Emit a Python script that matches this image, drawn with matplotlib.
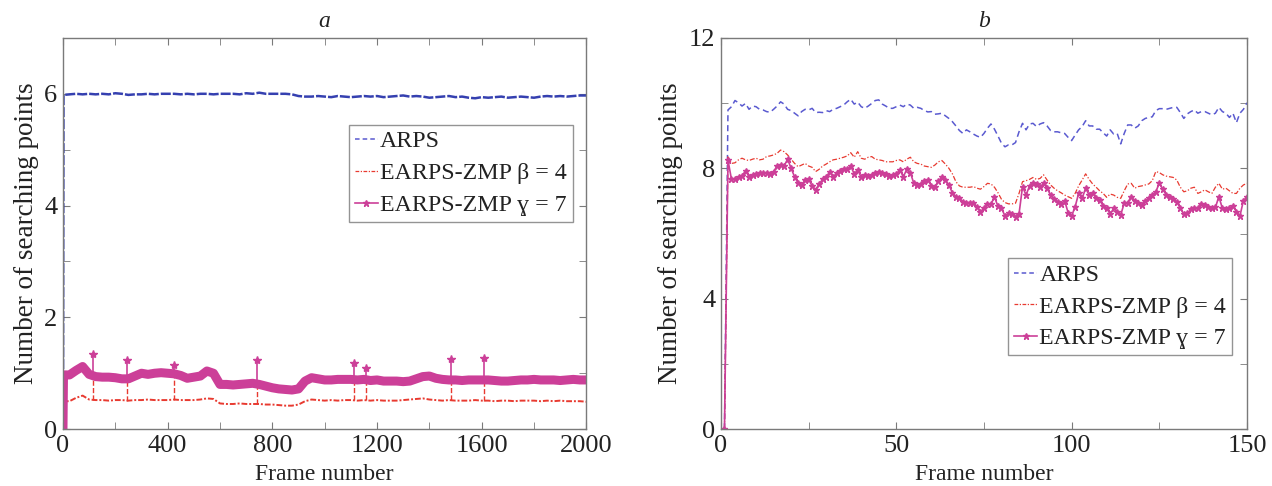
import numpy as np
import matplotlib
matplotlib.use("Agg")
import matplotlib.pyplot as plt
from matplotlib.lines import Line2D
from matplotlib.ticker import MultipleLocator

plt.rcParams['font.family'] = ['Liberation Serif', 'DejaVu Serif']

# ---- panel a : 2000 frames (read every 25 frames) ----
frames_a = [0, 2] + list(range(25, 2001, 25))
arps_a = [0, 5.98,
          5.99, 6.00, 5.99, 6.00, 5.99, 6.00, 5.99, 6.01, 6.00, 5.98, 5.99, 5.99,
          6.00, 5.99, 6.00, 6.00, 6.00, 5.99, 6.00, 5.99, 6.00, 6.00, 5.99, 6.00,
          6.00, 6.00, 5.99, 6.01, 6.00, 6.02, 6.00, 6.00, 6.00, 6.00, 5.99, 5.96,
          5.95, 5.95, 5.96, 5.95, 5.94, 5.96, 5.95, 5.94, 5.95, 5.96, 5.95, 5.96,
          5.94, 5.95, 5.96, 5.97, 5.95, 5.96, 5.95, 5.93, 5.94, 5.95, 5.96, 5.94,
          5.95, 5.93, 5.92, 5.94, 5.93, 5.94, 5.95, 5.93, 5.94, 5.95, 5.94, 5.93,
          5.95, 5.96, 5.95, 5.96, 5.95, 5.96, 5.97, 5.97]
beta_a = [0, 0.50,
          0.50, 0.56, 0.60, 0.53, 0.52, 0.52, 0.51, 0.52, 0.52, 0.51, 0.52, 0.52,
          0.53, 0.52, 0.52, 0.52, 0.53, 0.52, 0.52, 0.52, 0.53, 0.55, 0.54, 0.46,
          0.45, 0.45, 0.46, 0.45, 0.45, 0.45, 0.44, 0.44, 0.43, 0.42, 0.42, 0.44,
          0.50, 0.53, 0.52, 0.51, 0.52, 0.51, 0.52, 0.52, 0.51, 0.52, 0.51, 0.52,
          0.51, 0.51, 0.51, 0.52, 0.53, 0.54, 0.55, 0.53, 0.52, 0.51, 0.52, 0.51,
          0.51, 0.51, 0.52, 0.51, 0.51, 0.50, 0.51, 0.51, 0.50, 0.51, 0.51, 0.51,
          0.50, 0.51, 0.50, 0.51, 0.50, 0.50, 0.50, 0.49]
gamma_a = [0, 0.97,
           0.97, 1.05, 1.12, 0.98, 0.94, 0.93, 0.93, 0.92, 0.90, 0.90, 0.95, 1.00,
           0.98, 1.00, 1.01, 1.00, 0.99, 0.96, 0.91, 0.93, 0.95, 1.04, 1.00, 0.80,
           0.80, 0.79, 0.80, 0.81, 0.82, 0.80, 0.77, 0.74, 0.72, 0.71, 0.70, 0.72,
           0.86, 0.92, 0.90, 0.88, 0.88, 0.89, 0.89, 0.89, 0.88, 0.89, 0.87, 0.88,
           0.86, 0.86, 0.86, 0.85, 0.86, 0.90, 0.94, 0.95, 0.91, 0.89, 0.88, 0.88,
           0.87, 0.88, 0.88, 0.88, 0.88, 0.87, 0.86, 0.86, 0.87, 0.88, 0.88, 0.89,
           0.88, 0.88, 0.88, 0.87, 0.88, 0.89, 0.88, 0.88]
spike_frames = [116, 243, 424, 741, 1111, 1159, 1483, 1610]
spike_peak = [1.35, 1.24, 1.15, 1.24, 1.18, 1.10, 1.26, 1.27]
spike_base = [0.93, 0.90, 1.00, 0.80, 0.89, 0.89, 0.88, 0.88]
spike_beta = [0.52, 0.51, 0.52, 0.45, 0.52, 0.52, 0.52, 0.51]

# ---- panel b : 150 frames ----
arps_b = [0,
          9.79, 9.89, 10.08, 10.01, 9.91, 9.99, 9.81, 9.91, 9.89, 9.81,
          9.79, 9.74, 9.72, 9.81, 9.91, 10.04, 9.97, 9.81, 9.77, 9.69,
          9.61, 9.74, 9.81, 9.79, 9.84, 9.71, 9.72, 9.71, 9.77, 9.74,
          9.81, 9.84, 9.89, 9.94, 10.04, 10.12, 9.97, 10.03, 9.89, 9.84,
          9.91, 9.99, 10.08, 10.10, 9.97, 9.91, 9.84, 9.84, 9.89, 9.94,
          9.89, 9.97, 9.94, 9.84, 9.87, 9.84, 9.77, 9.73, 9.74, 9.66,
          9.67, 9.69, 9.61, 9.53, 9.43, 9.30, 9.16, 9.07, 9.18, 9.12,
          9.05, 8.99, 8.95, 9.07, 9.23, 9.36, 9.20, 8.99, 8.77, 8.66,
          8.72, 8.72, 8.79, 9.12, 9.38, 9.18, 9.36, 9.38, 9.28, 9.36,
          9.40, 9.30, 9.16, 9.12, 9.12, 9.09, 9.07, 8.95, 8.85, 9.02,
          9.18,
          9.28, 9.46, 9.30, 9.30, 9.20, 9.20, 9.09, 8.99, 9.18, 9.05,
          9.07, 8.75, 9.07, 9.33, 9.33, 9.23, 9.30, 9.46, 9.53, 9.56,
          9.58, 9.77, 9.83, 9.83, 9.81, 9.84, 9.87, 9.87, 9.71, 9.53,
          9.67, 9.74, 9.79, 9.69, 9.74, 9.74, 9.69, 9.64, 9.69, 9.87,
          9.74, 9.69, 9.56, 9.69, 9.40, 9.69, 9.81, 10.01]
beta_b = [0,
          8.35, 8.15, 8.17, 8.26, 8.31, 8.26, 8.24, 8.28, 8.31, 8.26,
          8.28, 8.36, 8.38, 8.41, 8.46, 8.56, 8.51, 8.41, 8.28, 8.15,
          8.05, 8.10, 8.15, 8.07, 8.03, 7.90, 7.97, 8.07, 8.13, 8.20,
          8.26, 8.28, 8.31, 8.34, 8.38, 8.48, 8.34, 8.51, 8.31, 8.28,
          8.34, 8.36, 8.28, 8.26, 8.24, 8.20, 8.20, 8.20, 8.24, 8.26,
          8.20, 8.28, 8.34, 8.20, 8.15, 8.13, 8.07, 8.05, 8.03, 8.10,
          8.20, 8.24, 8.13, 8.00, 7.83, 7.59, 7.46, 7.42, 7.42, 7.42,
          7.44, 7.39, 7.36, 7.44, 7.54, 7.52, 7.42, 7.25, 7.05, 6.95,
          6.91, 6.91, 6.93, 7.23, 7.59, 7.62, 7.66, 7.72, 7.66, 7.69,
          7.80, 7.64, 7.49, 7.39, 7.31, 7.25, 7.18, 7.13, 7.08, 7.23,
          7.46,
          7.64, 7.83, 7.66, 7.52, 7.42, 7.31, 7.23, 7.11, 7.21, 7.18,
          7.11, 7.08, 7.31, 7.52, 7.54, 7.39, 7.44, 7.46, 7.49, 7.52,
          7.62, 7.90, 7.87, 7.80, 7.76, 7.74, 7.72, 7.64, 7.42, 7.28,
          7.31, 7.39, 7.42, 7.23, 7.28, 7.34, 7.28, 7.23, 7.42, 7.54,
          7.36, 7.39, 7.31, 7.23, 7.23, 7.39, 7.49, 7.54]
gamma_b = [0,
           8.25, 7.66, 7.66, 7.72, 7.76, 7.93, 7.74, 7.80, 7.83, 7.85,
           7.85, 7.87, 7.83, 7.90, 8.07, 8.10, 8.07, 8.28, 8.00, 7.74,
           7.54, 7.49, 7.64, 7.66, 7.46, 7.34, 7.52, 7.66, 7.72, 7.90,
           7.74, 7.85, 7.93, 7.97, 7.97, 8.07, 7.83, 7.95, 7.72, 7.80,
           7.76, 7.80, 7.87, 7.90, 7.85, 7.83, 7.76, 7.80, 7.83, 7.95,
           7.74, 7.97, 7.87, 7.54, 7.49, 7.52, 7.62, 7.64, 7.46, 7.42,
           7.62, 7.72, 7.64, 7.49, 7.25, 7.13, 7.08, 6.98, 6.95, 6.95,
           6.95, 6.82, 6.67, 6.77, 6.91, 6.91, 7.11, 6.84, 6.77, 6.54,
           6.62, 6.60, 6.52, 6.60, 7.44, 7.18, 7.46, 7.54, 7.52, 7.42,
           7.54, 7.39, 7.18, 7.05, 6.98, 6.91, 7.01, 6.64, 6.54, 6.82,
           7.23,
           7.08, 7.39, 7.18, 7.25, 7.08, 7.03, 6.84, 6.77, 6.60, 6.77,
           6.67, 6.57, 6.93, 6.95, 7.13, 7.01, 6.95, 6.88, 7.01, 7.08,
           7.18, 7.28, 7.54, 7.36, 7.18, 7.13, 7.05, 6.98, 6.77, 6.60,
           6.62, 6.74, 6.77, 6.77, 6.91, 6.88, 6.80, 6.77, 6.80, 7.13,
           6.77, 6.74, 6.77, 6.84, 6.67, 6.54, 7.01, 7.13]

labels = ['ARPS', 'EARPS-ZMP β = 4', 'EARPS-ZMP ɣ = 7']
c_blue = '#3540b0'
c_blue_light = '#5a5ad0'
c_red = '#e83a30'
c_mag = '#cc3f98'
c_spine = '#7a7a7a'
c_text = '#222222'

fig = plt.figure(figsize=(12.72, 4.86), dpi=100)
ax1 = fig.add_axes([0.0495, 0.117, 0.4115, 0.805])
ax2 = fig.add_axes([0.5668, 0.117, 0.4135, 0.805])

# panel a
ax1.plot(frames_a, arps_a, color=c_blue, lw=1.8, dashes=(4, 0.8))
ax1.vlines(spike_frames, spike_beta, spike_base, color=c_red, lw=1.0, linestyles='--')
ax1.plot(frames_a, beta_a, color=c_red, lw=1.4, dashes=(3, 1, 1, 1))
ax1.plot(frames_a, gamma_a, color=c_mag, lw=6.5, solid_joinstyle='round')
ax1.vlines(spike_frames, spike_base, spike_peak, color=c_mag, lw=1.2)
ax1.plot(spike_frames, spike_peak, ls='none', marker='*', ms=6, color=c_mag)
ax1.set_xlim(0, 2000)
ax1.set_ylim(0, 7)
ax1.xaxis.set_major_locator(MultipleLocator(400))
ax1.xaxis.set_minor_locator(MultipleLocator(200))
ax1.yaxis.set_major_locator(MultipleLocator(2))
ax1.yaxis.set_minor_locator(MultipleLocator(1))

# panel b
ax2.plot(np.arange(1, len(arps_b) + 1), arps_b, color=c_blue_light, lw=1.1, ls=(0, (4, 2.5)))
ax2.plot(np.arange(1, len(beta_b) + 1), beta_b, color=c_red, lw=0.9, ls=(0, (4, 1.5, 1, 1.5)))
ax2.plot(np.arange(1, len(gamma_b) + 1), gamma_b, color=c_mag, lw=1.2, marker='*', ms=5)
ax2.set_xlim(0, 150)
ax2.set_ylim(0, 12)
ax2.xaxis.set_major_locator(MultipleLocator(50))
ax2.xaxis.set_minor_locator(MultipleLocator(25))
ax2.yaxis.set_major_locator(MultipleLocator(4))
ax2.yaxis.set_minor_locator(MultipleLocator(2))

handles = [Line2D([], [], color=c_blue_light, lw=1.1, ls=(0, (3, 2))),
           Line2D([], [], color=c_red, lw=0.9, ls=(0, (3, 1.2, 1, 1.2))),
           Line2D([], [], color=c_mag, lw=1.2, marker='*', ms=5)]

for ax, title, anchor in [(ax1, 'a', (0.974, 0.778)), (ax2, 'b', (0.972, 0.437))]:
    for s in ax.spines.values():
        s.set_color(c_spine)
        s.set_linewidth(1.0)
    ax.tick_params(which='both', direction='in', top=True, right=True,
                   colors=c_spine, labelcolor=c_text, labelsize=19)
    ax.tick_params(which='both', length=5, pad=4)
    ax.set_xlabel('Frame number', fontsize=17, color=c_text, labelpad=5)
    ax.set_ylabel('Number of searching points', fontsize=19.5, color=c_text, labelpad=4)
    ax.set_title(title, fontsize=17, style='italic', color=c_text, pad=8)
    leg = ax.legend(handles, labels, loc='upper right', bbox_to_anchor=anchor,
                    fontsize=17.2, frameon=True, fancybox=False, handlelength=0.95,
                    handletextpad=0.1, borderpad=0.25, labelspacing=0.42,
                    borderaxespad=0)
    leg.get_frame().set_edgecolor(c_spine)
    leg.get_frame().set_linewidth(1.0)
    for t in leg.get_texts():
        t.set_color(c_text)

fig.savefig('out.png', dpi=100)
